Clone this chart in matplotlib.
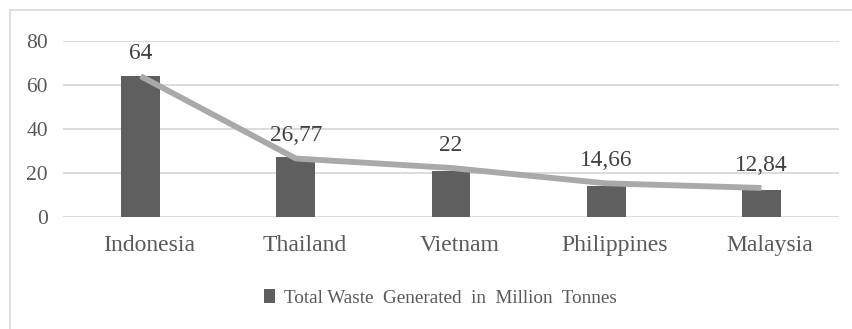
import matplotlib.pyplot as plt
import matplotlib.transforms as mtransforms
from matplotlib.lines import Line2D
from matplotlib.patches import Patch

countries = ['Indonesia', 'Thailand', 'Vietnam', 'Philippines', 'Malaysia']
bar_values = [64, 27.3, 21, 14.1, 12.2]
line_values = [64, 26.5, 22.2, 15.2, 13.1]
value_labels = ['64', '26,77', '22', '14,66', '12,84']
yticks = [0, 20, 40, 60, 80]

text_col = '#595959'
plt.rcParams['font.family'] = ['Liberation Serif', 'DejaVu Serif']

fig = plt.figure(figsize=(8.53, 3.29), dpi=100)
ax = fig.add_axes([0.0739, 0.3413, 0.9097, 0.5341])

x = range(len(countries))
ax.bar(x, bar_values, width=0.25, color='#5f5f5f', zorder=2)
ax.plot(x, line_values, color='#a9a9a9', linewidth=4.2, zorder=3,
        solid_capstyle='butt')

# data labels sit above the line points
for i, lab in enumerate(value_labels):
    ax.annotate(lab, (i, line_values[i]), xytext=(0, 16.5),
                textcoords='offset points', ha='center', va='center',
                fontsize=16.8, color='#404040')

ax.set_xlim(-0.5, len(countries) - 0.5)
ax.set_ylim(0, 80)
ax.set_yticks(yticks)
ax.set_xticks(list(x))
ax.set_xticklabels(countries)
ax.grid(axis='y', color='#d9d9d9', linewidth=1.3, zorder=0)
ax.set_axisbelow(True)
for s in ax.spines.values():
    s.set_visible(False)
ax.tick_params(axis='y', length=0, pad=11, labelsize=15.5, labelcolor=text_col)
ax.tick_params(axis='x', length=0, pad=13, labelsize=17, labelcolor=text_col)

# category labels sit a little right of the bars in the original
shift = mtransforms.ScaledTranslation(0.085, 0, fig.dpi_scale_trans)
for lbl in ax.get_xticklabels():
    lbl.set_transform(lbl.get_transform() + shift)

# legend below the plot
handle = Patch(facecolor='#5f5f5f', edgecolor='none')
leg = fig.legend([handle], ['Total Waste  Generated  in  Million  Tonnes'],
                 loc='center', bbox_to_anchor=(0.5164, 0.095), frameon=False,
                 fontsize=13.8, handlelength=0.55, handleheight=0.8,
                 handletextpad=0.45)
for t in leg.get_texts():
    t.set_color(text_col)

# chart area border (left and top edges only visible)
fig.add_artist(Line2D([10 / 853, 10 / 853], [0, 1 - 10 / 329],
                      transform=fig.transFigure, color='#d9d9d9', linewidth=1.2))
fig.add_artist(Line2D([10 / 853, 1], [1 - 10 / 329, 1 - 10 / 329],
                      transform=fig.transFigure, color='#d9d9d9', linewidth=1.2))

fig.savefig('out.png', dpi=100)
